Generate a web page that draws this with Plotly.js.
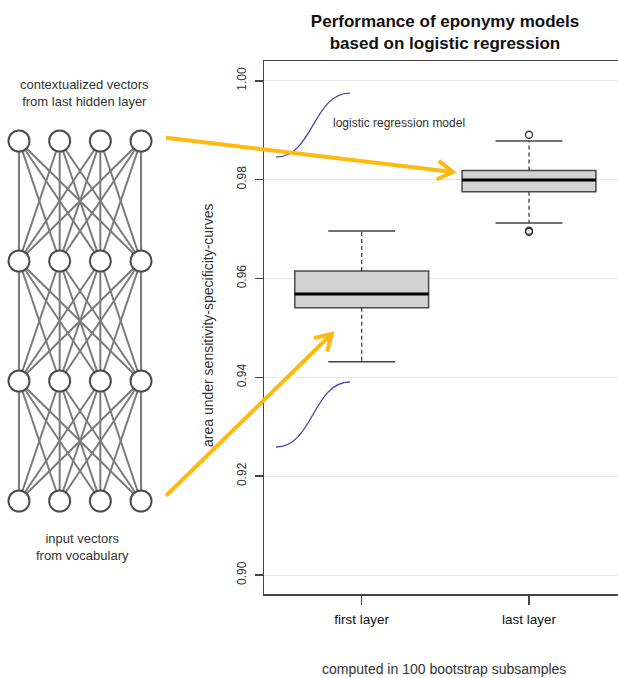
<!DOCTYPE html>
<html>
<head>
<meta charset="utf-8">
<script src="https://cdn.plot.ly/plotly-3.0.1.min.js"></script>
<style>html,body{margin:0;padding:0;background:#fff;}#chart{width:618px;height:678px;}</style>
</head>
<body>
<div id="chart"></div>
<script>
// ---- data ----
const categories = ['first layer', 'last layer'];
const q1 = [0.9541, 0.97755];
const medians = [0.95685, 0.97991];
const q3 = [0.9615, 0.98187];
const lowerWhisker = [0.94315, 0.97121];
const upperWhisker = [0.9696, 0.9878];
const outlierCat = [1, 1, 1];
const outlierVal = [0.98908, 0.96968, 0.96945];
const yTicks = [0.90, 0.92, 0.94, 0.96, 0.98, 1.00];
const layerSizes = [4, 4, 4, 4];
const sigmoidLow = [0.9259, 0.93905];
const sigmoidHigh = [0.98456, 0.99751];

// ---- layout helpers ----
const W = 618, H = 678, T = 61, B = 84;
const plotH = H - T - B;
const px = x => x / W;
const py = y => (H - B - y) / plotH;
const FONT = 'Liberation Sans, Arial, sans-serif';
const boxW = 0.8, capW = 0.4;

const traces = [];

// network edges
const ex = [], ey = [];
for (let l = 0; l < layerSizes.length - 1; l++) {
  for (let i = 0; i < layerSizes[l]; i++) {
    for (let j = 0; j < layerSizes[l + 1]; j++) {
      ex.push(i, j, null); ey.push(l, l + 1, null);
    }
  }
}
traces.push({type:'scatter', mode:'lines', x:ex, y:ey, xaxis:'x2', yaxis:'y2',
  line:{color:'#7a7a7a', width:2}, hoverinfo:'skip', showlegend:false});
const nx = [], ny = [];
layerSizes.forEach((n, l) => { for (let i = 0; i < n; i++) { nx.push(i); ny.push(l); } });
traces.push({type:'scatter', mode:'markers', x:nx, y:ny, xaxis:'x2', yaxis:'y2',
  marker:{symbol:'circle', size:21, color:'#fff', line:{color:'#4d4d4d', width:2}},
  hoverinfo:'skip', showlegend:false});

// boxes
const xi = categories.map((c, i) => i);
traces.push({type:'box', x:xi, q1:q1, median:medians, q3:q3, lowerfence:q1, upperfence:q3,
  width:boxW, fillcolor:'#d3d3d3', line:{color:'#4a4a4a', width:1.5}, boxpoints:false,
  hoverinfo:'skip', showlegend:false});

// whiskers (dashed)
const wx = [], wy = [], cx = [], cy = [], mx = [], my = [];
xi.forEach(i => {
  wx.push(i, i, null, i, i, null);
  wy.push(q3[i], upperWhisker[i], null, q1[i], lowerWhisker[i], null);
  cx.push(i - capW / 2, i + capW / 2, null, i - capW / 2, i + capW / 2, null);
  cy.push(upperWhisker[i], upperWhisker[i], null, lowerWhisker[i], lowerWhisker[i], null);
  mx.push(i - boxW / 2, i + boxW / 2, null);
  my.push(medians[i], medians[i], null);
});
traces.push({type:'scatter', mode:'lines', x:wx, y:wy, line:{color:'#333', width:1.2, dash:'4px,3px'},
  hoverinfo:'skip', showlegend:false});
traces.push({type:'scatter', mode:'lines', x:cx, y:cy, line:{color:'#444', width:1.5},
  hoverinfo:'skip', showlegend:false});
traces.push({type:'scatter', mode:'lines', x:mx, y:my, line:{color:'#000', width:3},
  hoverinfo:'skip', showlegend:false});
traces.push({type:'scatter', mode:'markers', x:outlierCat, y:outlierVal,
  marker:{symbol:'circle-open', size:7, color:'#333', line:{width:1.3}},
  hoverinfo:'skip', showlegend:false});

// ---- decorations ----
function arrowShapes(x0, y0, x1, y1) {
  const a = Math.atan2(y1 - y0, x1 - x0), L = 18, h = 0.55;
  const w1 = [x1 - L * Math.cos(a - h), y1 - L * Math.sin(a - h)];
  const w2 = [x1 - L * Math.cos(a + h), y1 - L * Math.sin(a + h)];
  const st = {color:'#FFB90F', width:4};
  return [
    {type:'line', xref:'paper', yref:'paper', x0:px(x0), y0:py(y0), x1:px(x1), y1:py(y1), line:st},
    {type:'path', xref:'paper', yref:'paper', line:st,
     path:`M ${px(w1[0])},${py(w1[1])} L ${px(x1)},${py(y1)} L ${px(w2[0])},${py(w2[1])}`}
  ];
}
function sigmoidShape(x0, x1, lo, hi) {
  const xm = (x0 + x1) / 2;
  return {type:'path', xref:'x', yref:'y', line:{color:'#4646a8', width:1.3},
    path:`M ${x0},${lo} C ${xm},${lo} ${xm},${hi} ${x1},${hi}`};
}
const shapes = [
  sigmoidShape(-0.512, -0.07, sigmoidLow[0], sigmoidLow[1]),
  sigmoidShape(-0.512, -0.07, sigmoidHigh[0], sigmoidHigh[1]),
  ...arrowShapes(166, 137.7, 453, 172),
  ...arrowShapes(166, 495.7, 331.7, 334)
];

const annotations = [
  {xref:'paper', yref:'paper', x:px(84), y:py(93), text:'contextualized vectors<br>from last hidden layer',
   showarrow:false, font:{family:FONT, size:13, color:'#333'}, xanchor:'center', yanchor:'middle'},
  {xref:'paper', yref:'paper', x:px(82), y:py(547), text:'input vectors<br>from vocabulary',
   showarrow:false, font:{family:FONT, size:13, color:'#333'}, xanchor:'center', yanchor:'middle'},
  {xref:'paper', yref:'paper', x:px(331), y:py(123), text:'logistic regression model',
   showarrow:false, font:{family:FONT, size:12, color:'#333'}, xanchor:'left', yanchor:'middle'},
  {xref:'paper', yref:'paper', x:px(208), y:py(325), text:'area under sensitivity-specificity-curves',
   textangle:-90, showarrow:false, font:{family:FONT, size:14, color:'#333'}, xanchor:'center', yanchor:'middle'},
  {xref:'paper', yref:'paper', x:px(444), y:py(669), text:'computed in 100 bootstrap subsamples',
   showarrow:false, font:{family:FONT, size:14, color:'#333'}, xanchor:'center', yanchor:'middle'}
];

const nodeUnitX = 40.67, nodeX0 = 19, netW = 204;
const rowUnit = 120, rowY0 = 501;
const layout = {
  width:W, height:H, margin:{l:0, r:0, t:T, b:B},
  paper_bgcolor:'#fff', plot_bgcolor:'#fff', showlegend:false,
  title:{text:'<b>Performance of eponymy models<br>based on logistic regression</b>',
    font:{family:FONT, size:17, color:'#111'}, x:px(445), xanchor:'center',
    yref:'container', y:1 - 27 / H, yanchor:'middle'},
  xaxis:{domain:[264 / W, 1], range:[-0.584, 1.532], tickvals:xi, ticktext:categories,
    ticks:'outside', ticklen:9, tickwidth:1.5, tickcolor:'#444', showline:true, mirror:true,
    linecolor:'#444', linewidth:1.5, showgrid:false, zeroline:false, ticklabelstandoff:3,
    tickfont:{family:FONT, size:13.5, color:'#111'}},
  yaxis:{domain:[0, 1], range:[0.89616, 1.004], tickvals:yTicks, tickformat:'.2f', tickangle:-90,
    ticks:'outside', ticklen:8, tickwidth:1.5, tickcolor:'#444', showline:true, ticklabelstandoff:4,
    linecolor:'#444', linewidth:1.5, showgrid:true, gridcolor:'#e8e8e8', gridwidth:1, zeroline:false,
    tickfont:{family:FONT, size:12, color:'#333'}},
  xaxis2:{domain:[0, netW / W], anchor:'y2', visible:false,
    range:[-nodeX0 / nodeUnitX, (netW - nodeX0) / nodeUnitX]},
  yaxis2:{domain:[0, 1], anchor:'x2', visible:false,
    range:[-(H - B - rowY0) / rowUnit, (rowY0 - T) / rowUnit]},
  shapes:shapes, annotations:annotations
};
Plotly.newPlot('chart', traces, layout, {displayModeBar:false, staticPlot:true});
</script>
</body>
</html>
